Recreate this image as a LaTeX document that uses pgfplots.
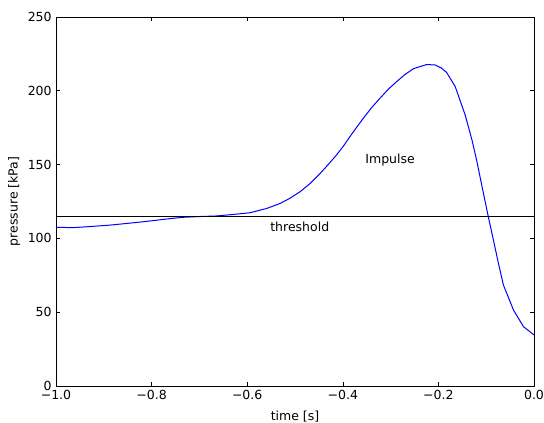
\documentclass[border=0pt]{standalone}
\usepackage{fontspec}
\setmainfont{DejaVu Sans}
\usepackage{pgfplots}
\pgfplotsset{compat=1.18}
\begin{document}
\fontsize{12.5bp}{15bp}\selectfont
\begin{tikzpicture}
\begin{axis}[
  scale only axis,
  width=478bp, height=369bp,
  xmin=-1, xmax=0, ymin=0, ymax=250,
  xtick={-1,-0.8,-0.6,-0.4,-0.2,0},
  xticklabels={−1.0,−0.8,−0.6,−0.4,−0.2,0.0},
  ytick={0,50,100,150,200,250},
  /pgf/number format/assume math mode=true,
  tick align=inside,
  major tick length=4bp,
  minor tick num=0,
  axis line style={line width=0.8bp},
  every tick/.style={black, line width=0.6bp},
  xlabel={time [s]}, ylabel={pressure [kPa]},
  xlabel style={yshift=-2.5bp},
  ylabel style={yshift=-1bp},
  tick label style={font=\fontsize{12.5bp}{15bp}\selectfont},
  label style={font=\fontsize{12.5bp}{15bp}\selectfont},
  clip=false,
]
\addplot[blue, line width=1bp] coordinates {
(-1.000,107.5) (-0.964,107.3) (-0.930,108.0) (-0.887,109.0) (-0.850,110.2) (-0.817,111.3)
(-0.790,112.3) (-0.762,113.4) (-0.734,114.3) (-0.700,114.8) (-0.664,115.2) (-0.630,116.2)
(-0.594,117.4) (-0.559,120.3) (-0.531,123.7) (-0.510,127.3) (-0.4895,131.6)
(-0.468,137.3) (-0.448,143.8) (-0.430,150.2) (-0.413,156.6) (-0.399,162.4) (-0.385,169.0)
(-0.371,175.3) (-0.357,181.4) (-0.340,188.5) (-0.322,195.0) (-0.305,201.0) (-0.287,206.3)
(-0.270,211.0) (-0.252,215.0) (-0.2245,217.8) (-0.207,217.5) (-0.194,215.5) (-0.183,212.5)
(-0.165,203.0) (-0.144,183.6) (-0.130,167.0) (-0.120,153.0) (-0.108,134.0) (-0.0956,114.7)
(-0.085,99.0) (-0.075,84.0) (-0.064,68.4) (-0.043,51.5) (-0.022,40.2) (0.000,34.6)
};
\addplot[black, line width=1bp] coordinates {(-1,114.5) (0,114.5)};
\node at (axis cs:-0.301,153) {Impulse};
\node at (axis cs:-0.49,107.7) {threshold};
\coordinate (sw) at (rel axis cs:0,0);
\coordinate (ne) at (rel axis cs:1,1);
\end{axis}
\pgfresetboundingbox
\path[use as bounding box] ([shift={(-56bp,-37bp)}]sw) rectangle ([shift={(10bp,17bp)}]ne);
\end{tikzpicture}
\end{document}
